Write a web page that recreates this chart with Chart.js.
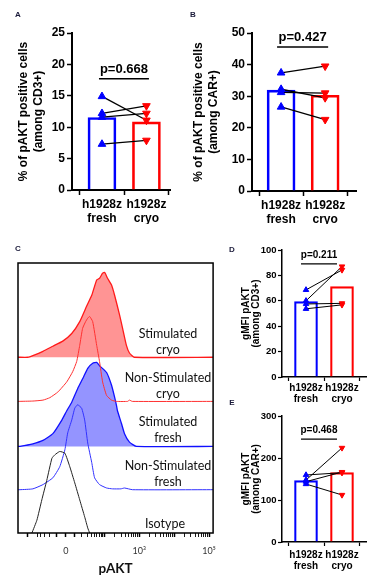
<!DOCTYPE html>
<html><head><meta charset="utf-8">
<script src="https://cdn.jsdelivr.net/npm/chart.js@4"></script>
<style>
html,body{margin:0;padding:0;background:#fff;}
#wrap{position:relative;width:382px;height:582px;overflow:hidden;background:#fff;}
canvas{position:absolute;}
.pl{position:absolute;font-family:'Liberation Sans',Arial,sans-serif;font-weight:bold;font-size:8px;color:#1a1a3a;transform:translate(-50%,-50%);}
.hl{position:absolute;font-family:Lato,sans-serif;font-size:12.5px;color:#111;text-align:center;line-height:16.5px;transform:translate(-50%,-50%);white-space:nowrap;}
</style></head>
<body>
<div id="wrap">
<canvas id="cA" width="185" height="228" style="left:0;top:0"></canvas>
<canvas id="cB" width="192" height="228" style="left:190px;top:0"></canvas>
<canvas id="cC" width="225" height="342" style="left:0;top:240px"></canvas>
<canvas id="cD" width="157" height="168" style="left:225px;top:240px"></canvas>
<canvas id="cE" width="157" height="178" style="left:225px;top:404px"></canvas>
<div class="pl" style="left:18px;top:14px">A</div>
<div class="pl" style="left:193px;top:14px">B</div>
<div class="pl" style="left:18px;top:248px">C</div>
<div class="pl" style="left:232px;top:249px">D</div>
<div class="pl" style="left:232px;top:402px">E</div>
<div class="hl" style="left:168px;top:341.5px">Stimulated<br>cryo</div>
<div class="hl" style="left:168px;top:385.5px">Non-Stimulated<br>cryo</div>
<div class="hl" style="left:168px;top:429.5px">Stimulated<br>fresh</div>
<div class="hl" style="left:168px;top:473.5px">Non-Stimulated<br>fresh</div>
<div class="hl" style="left:165px;top:524px">Isotype</div>
</div>
<script>
// ---------- data ----------
const CATEGORIES = [['h1928z','fresh'],['h1928z','cryo']];

const A_MEAN  = [11.55, 10.86];
const A_FRESH = [14.9, 12.2, 11.6, 7.3];
const A_CRYO  = [11.1, 13.4, 12.2, 7.9];
const A_P = 'p=0.668';

const B_MEAN  = [31.9, 30.3];
const B_FRESH = [37.4, 32.2, 31.2, 26.6];
const B_CRYO  = [39.5, 29.5, 31.0, 22.6];
const B_P = 'p=0.427';

const D_MEAN  = [59.4, 71.2];
const D_FRESH = [68.6, 60.0, 57.5, 53.7];
const D_CRYO  = [84.3, 87.0, 58.0, 56.8];
const D_P = 'p=0.211';

const E_MEAN  = [146, 165];
const E_FRESH = [147.6, 159.5, 143.7, 138];
const E_CRYO  = [224, 165, 166.5, 112];
const E_P = 'p=0.468';

// histograms (channel, % of mode)
const STIM_CRYO_CH  = [0,52,78,131,183,235,282,324,360,387,413,428,444,455,470,491,507,533,549,569,585,611,1024];
const STIM_CRYO_CNT = [0,0,2,7,13,19,28,42,60,73,91,93,99,100,93,85,73,50,34,14,5,0,0];
const NS_CRYO_CH    = [0,78,131,167,209,256,287,308,324,339,355,366,376,392,413,428,444,465,491,517,575,585,600,1024];
const NS_CRYO_CNT   = [0,0.4,1.5,4.4,11,23,35,47,66,86,94,98,100,94,66,47,23,7,1.5,0,0,1.5,0,0];
const STIM_FRESH_CH = [0,10,78,131,183,230,256,282,313,340,366,392,413,428,465,491,507,517,522,543,559,585,622,1024];
const STIM_FRESH_CNT= [0,0,3,7,15,31,42,52,68,80,92,98,99,95,87,72,58,48,42,27,15,5,0,0];
const NS_FRESH_CH   = [0,10,78,131,183,219,246,261,282,298,313,334,350,366,387,402,428,465,496,540,559,601,1024];
const NS_FRESH_CNT  = [0,0,1,6,14,27,47,67,82,96,100,96,82,55,32,14,6,2,1,1,2,0,0];
const ISO_CH        = [73,99,125,151,178,193,219,246,272,298,324,350,366,376];
const ISO_CNT       = [0,15,39,62,88,92,96,94,78,59,39,19,6,0];

const AXIS_TICK_VALUES = [-100,-50,-40,-30,-20,-10,0,10,20,30,40,50,60,70,80,90,100,200,300,400,500,600,700,800,900,1000,2000,3000,4000,5000,6000,7000,8000,9000,10000,20000,30000,40000,50000,60000,70000,80000,90000,100000];
const AXIS_TICK_LABELS = {0:'0', 1000:'10\u00B3', 100000:'10\u2075'};

// ---------- style ----------
const BLUE = '#0000ff', RED = '#ff0000';
Chart.defaults.font.family = "'Liberation Sans', Arial, sans-serif";
Chart.defaults.color = '#000';

const pvalPlugin = {
  id: 'pval',
  afterDatasetsDraw(chart, args, o) {
    const ctx = chart.ctx, xs = chart.scales.x, ys = chart.scales.y;
    const x0 = xs.getPixelForValue(0) - o.extL, x1 = xs.getPixelForValue(1) + o.extR;
    const y = ys.getPixelForValue(o.y);
    ctx.save();
    ctx.strokeStyle = '#000'; ctx.lineWidth = o.lw;
    ctx.beginPath(); ctx.moveTo(x0, y); ctx.lineTo(x1, y); ctx.stroke();
    ctx.fillStyle = '#000';
    ctx.font = `bold ${o.size}px 'Liberation Sans', Arial, sans-serif`;
    ctx.textAlign = 'center'; ctx.textBaseline = 'middle';
    ctx.fillText(o.text, (x0 + x1) / 2, y - o.gap);
    ctx.restore();
  }
};

function pairChart(id, o) {
  const ds = [{
    type: 'bar', data: [{x: 0, y: o.mean[0]}, {x: 1, y: o.mean[1]}],
    backgroundColor: 'rgba(255,255,255,0)', borderColor: [BLUE, RED],
    borderWidth: o.bw, barThickness: o.barW, order: 10
  }];
  o.fresh.forEach((v, i) => ds.push({
    type: 'line', data: [{x: 0, y: v}, {x: 1, y: o.cryo[i]}],
    borderColor: '#000', borderWidth: o.lw,
    pointStyle: 'triangle', pointRadius: o.pr,
    pointBackgroundColor: [BLUE, RED], pointBorderColor: [BLUE, RED],
    pointBorderWidth: 1, pointRotation: [0, 180], order: i
  }));
  return new Chart(document.getElementById(id), {
    type: 'bar',
    data: {datasets: ds},
    options: {
      responsive: false, animation: false, events: [],
      layout: {padding: o.pad},
      plugins: {legend: {display: false}, tooltip: {enabled: false},
        pval: {text: o.p, y: o.pY, gap: o.pGap, extL: o.extL, extR: o.extR, size: o.pSize, lw: o.plw}},
      scales: {
        x: {type: 'linear', min: o.xMin, max: o.xMax, offset: false,
          afterBuildTicks: s => { s.ticks = [{value: 0}, {value: 1}]; },
          afterFit: s => { s.height = o.xH; },
          grid: {drawOnChartArea: false, tickLength: o.tl, tickColor: '#000', tickWidth: o.tw},
          border: {color: '#000', width: o.aw},
          ticks: {autoSkip: false, maxRotation: 0, padding: o.xPad,
            font: {size: o.xFont, weight: 'bold', lineHeight: o.xLH}, color: '#000',
            callback: (v, i) => CATEGORIES[i]}},
        y: {min: 0, max: o.yMax, afterFit: s => { s.width = o.yW; },
          grid: {drawOnChartArea: false, tickLength: o.tl, tickColor: '#000', tickWidth: o.tw},
          border: {color: '#000', width: o.aw},
          ticks: {stepSize: o.step, padding: o.yPad, font: {size: o.yFont, weight: 'bold'}, color: '#000'},
          title: {display: true, text: o.title, color: '#000',
            font: {size: o.tFont, weight: 'bold', lineHeight: o.tLH},
            padding: {top: o.tPad, bottom: 0}}}
      }
    },
    plugins: [pvalPlugin]
  });
}

const big = {bw: 2, barW: 28, lw: 1.3, pr: 4.4, tl: 5, tw: 1.5, aw: 2, xPad: 2, xFont: 12, xLH: 1.2,
  yPad: 2, yFont: 12, tFont: 12, tLH: 1.2, pSize: 13, plw: 1.5, pGap: 9};
const small = {bw: 1.5, barW: 23, lw: 1, pr: 3.2, tl: 4, tw: 1.2, aw: 1.5, xPad: 1, xFont: 10, xLH: 1.15,
  yPad: 1.5, yFont: 9.5, tFont: 10, tLH: 1.0, pSize: 10, plw: 1.2, pGap: 8.5};

pairChart('cA', Object.assign({}, big, {
  mean: A_MEAN, fresh: A_FRESH, cryo: A_CRYO, p: A_P, pY: 17.7, extL: 3, extR: 2.5,
  xMin: -0.674, xMax: 1.53, yMax: 25, step: 5, yW: 72, xH: 34,
  pad: {left: 0, top: 33, right: 15, bottom: 4}, tPad: 16.8,
  title: ['% of pAKT positive cells', '(among CD3+)']}));

pairChart('cB', Object.assign({}, big, {
  mean: B_MEAN, fresh: B_FRESH, cryo: B_CRYO, p: B_P, pY: 45.6, extL: 4, extR: 3,
  xMin: -0.66, xMax: 1.70, yMax: 50, step: 10, yW: 62, xH: 33,
  pad: {left: 0, top: 33, right: 26, bottom: 4}, tPad: 1.8,
  title: ['% of pAKT positive cells', '(among CAR+)']}));

pairChart('cD', Object.assign({}, small, {
  mean: D_MEAN, fresh: D_FRESH, cryo: D_CRYO, p: D_P, pY: 89, extL: 5, extR: -5,
  xMin: -0.667, xMax: 1.667, yMax: 100, step: 20, yW: 57, xH: 28,
  pad: {left: 0, top: 10, right: 16, bottom: 3}, tPad: 16,
  title: ['gMFI pAKT', '(among CD3+)']}));

pairChart('cE', Object.assign({}, small, {
  mean: E_MEAN, fresh: E_FRESH, cryo: E_CRYO, p: E_P, pY: 245, extL: 5, extR: -5,
  xMin: -0.667, xMax: 1.667, yMax: 300, step: 100, yW: 57, xH: 37, xPad: 3,
  pad: {left: 0, top: 12, right: 16, bottom: 3}, tPad: 16,
  title: ['gMFI pAKT', '(among CAR+)']}));

// ---------- histogram overlay (C) ----------
const ROW_OFFSET = [207, 155, 102, 51, 0]; // stacking offsets of the 5 rows
const toChannel = v => 251 + 183 * Math.asinh(v / 15.6) / Math.LN10; // biexponential display
const pts = (ch, cnt, off) => ch.map((c, i) => ({x: c, y: cnt[i] + off}));

const boxPlugin = {
  id: 'box',
  afterDatasetsDraw(chart) {
    const {ctx, chartArea: a} = chart;
    ctx.save(); ctx.strokeStyle = '#000'; ctx.lineWidth = 1.5;
    ctx.strokeRect(a.left, a.top, a.right - a.left, a.bottom - a.top);
    ctx.restore();
  }
};

new Chart(document.getElementById('cC'), {
  type: 'line',
  data: {datasets: [
    {data: pts(STIM_CRYO_CH, STIM_CRYO_CNT, ROW_OFFSET[0]), borderColor: '#ff1a1a', backgroundColor: 'rgba(255,0,0,0.42)',
     fill: {value: ROW_OFFSET[0]}, borderWidth: 1.3, pointRadius: 0, tension: 0.15, order: 4},
    {data: pts(NS_CRYO_CH, NS_CRYO_CNT, ROW_OFFSET[1]), borderColor: '#ff3030', fill: false,
     borderWidth: 1, pointRadius: 0, tension: 0.15, order: 2},
    {data: pts(STIM_FRESH_CH, STIM_FRESH_CNT, ROW_OFFSET[2]), borderColor: '#1010ff', backgroundColor: 'rgba(0,0,255,0.42)',
     fill: {value: ROW_OFFSET[2]}, borderWidth: 1.3, pointRadius: 0, tension: 0.15, order: 3},
    {data: pts(NS_FRESH_CH, NS_FRESH_CNT, ROW_OFFSET[3]), borderColor: '#3030ff', fill: false,
     borderWidth: 1, pointRadius: 0, tension: 0.15, order: 1},
    {data: pts(ISO_CH, ISO_CNT, ROW_OFFSET[4]), borderColor: '#222', fill: false,
     borderWidth: 1, pointRadius: 0, tension: 0.15, order: 0}
  ]},
  options: {
    responsive: false, animation: false, events: [],
    layout: {padding: {left: 18, right: 11, top: 23, bottom: 3}},
    plugins: {legend: {display: false}, tooltip: {enabled: false}},
    scales: {
      x: {type: 'linear', min: 0, max: 1024,
        afterBuildTicks: s => {
          s.ticks = AXIS_TICK_VALUES.map(v => ({value: toChannel(v), raw: v,
            major: (v === 0 || Math.abs(Math.log10(Math.abs(v || 1))) % 1 === 0)}));
        },
        afterFit: s => { s.height = 46; },
        grid: {drawOnChartArea: false, tickLength: 4, tickColor: '#000',
          tickWidth: c => (c.tick && c.tick.major ? 1.5 : 0.9)},
        border: {display: false},
        ticks: {autoSkip: false, maxRotation: 0, padding: 9,
          font: {size: 9, family: 'Lato'}, color: '#333',
          callback: (v, i, t) => (AXIS_TICK_LABELS[t[i].raw] !== undefined ? AXIS_TICK_LABELS[t[i].raw] : '')},
        title: {display: true, text: 'pAKT', color: '#111',
          font: {size: 13.5, weight: 'bold', family: 'Lato'}, padding: {top: 0, bottom: 2}}},
      y: {display: false, min: 0, max: 318}
    }
  },
  plugins: [boxPlugin]
});
</script>
</body></html>
